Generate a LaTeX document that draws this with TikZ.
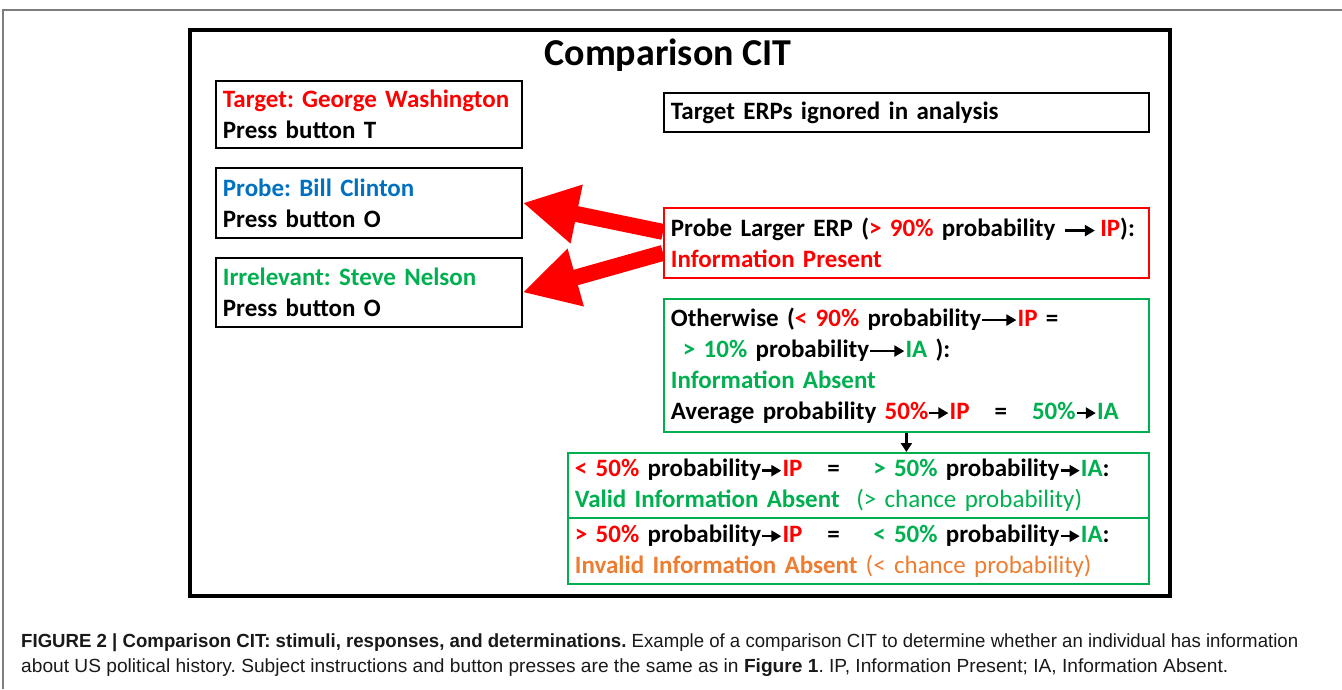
\documentclass[tikz,border=0pt]{standalone}
\usepackage{fontspec}
\usepackage{graphicx}
\setmainfont{Carlito}
\newfontfamily\capfont{Liberation Sans}
\usetikzlibrary{arrows.meta}
\frenchspacing
\definecolor{cred}{RGB}{255,0,0}
\definecolor{cblue}{RGB}{0,112,192}
\definecolor{cgreen}{RGB}{0,176,80}
\definecolor{corange}{RGB}{237,125,49}
\definecolor{cframe}{RGB}{125,125,125}
\newcommand\Rd[1]{\textcolor{cred}{#1}}
\newcommand\Gn[1]{\textcolor{cgreen}{#1}}
\newcommand\Or[1]{\textcolor{corange}{#1}}
\newcommand\larr[1][34pt]{\tikz[baseline=-0.24em]\draw[black,line width=2.4pt,-{Triangle[length=10pt,width=11pt]}] (0pt,0pt)--(#1,0pt);}
\newcommand\sarr{\tikz[baseline=-0.24em]\draw[black,line width=2.4pt,-{Triangle[length=10pt,width=11pt]}] (0pt,0pt)--(19pt,0pt);}
\tikzset{
  txt/.style={font=\fontsize{25}{31}\selectfont\bfseries},
  box/.style={draw, line width=1.8pt, anchor=north west, align=left, inner xsep=7pt, inner ysep=0pt, txt},
  redarrow/.style={draw=cred, line width=16pt, -{Triangle[length=55pt,width=56pt]}},
  downarrow/.style={draw=black, line width=2.2pt, -{Triangle[length=9pt,width=11pt]}},
  capline/.style={anchor=west, inner sep=0pt, font=\capfont\fontsize{19}{22}\selectfont, text=black!90}
}
\begin{document}
\begin{tikzpicture}[x=1pt,y=-1pt]
\useasboundingbox (0,0) rectangle (1342,689);
% page frame
\draw[cframe, line width=1.5pt] (3,689) -- (3,10) -- (1342,10);
% main box
\node[draw, line width=3.5pt, anchor=north west, minimum width=980pt, minimum height=566pt, inner sep=0pt] (main) at (188,28) {};
\node[font=\fontsize{38}{44}\selectfont\bfseries] (title) at (668,55) {Comparison CIT};
% left boxes
\node[box, text width=292pt, minimum height=67pt] (tgt) at (215,80) {\mbox{\Rd{Target: George Washington}}\\Press button T};
\node[box, text width=292pt, minimum height=70pt] (prb) at (215,167) {\textcolor{cblue}{Probe: Bill Clinton}\\Press button O};
\node[box, text width=292pt, minimum height=69pt] (irr) at (215,257) {\Gn{Irrelevant: Steve Nelson}\\Press button O};
% right boxes
\node[box, text width=471pt, minimum height=39pt] (ign) at (663,92) {Target ERPs ignored in analysis};
\node[box, draw=cred, text width=471pt, minimum height=70pt] (pl) at (663,207) {\mbox{Probe Larger ERP (\Rd{> 90\%} probability\ \larr[30pt]\,\Rd{IP}):}\\\Rd{Information Present}};
\node[box, draw=cgreen, text width=471pt, minimum height=133pt] (oth) at (663,298) {\mbox{Otherwise (\Rd{< 90\%} probability\larr\Rd{IP} =}\\\hspace*{12pt}\Gn{> 10\%} probability\larr\Gn{IA} ):\\\Gn{Information Absent}\\\mbox{Average probability \Rd{50\%}\sarr\Rd{IP}\quad=\quad\Gn{50\%}\sarr\Gn{IA}}};
\node[box, draw=cgreen, text width=567pt, minimum height=65pt] (valid) at (567,452) {\mbox{\Rd{< 50\%} probability\sarr\Rd{IP}\quad=\quad\ \Gn{> 50\%} probability\sarr\Gn{IA}:}\\\Gn{Valid Information Absent\ \ {\mdseries(> chance probability)}}};
\node[box, draw=cgreen, text width=567pt, minimum height=66pt] (invalid) at (567,517) {\mbox{\Rd{> 50\%} probability\sarr\Rd{IP}\quad=\quad\ \Gn{< 50\%} probability\sarr\Gn{IA}:}\\\Or{Invalid Information Absent {\mdseries(< chance probability)}}};
% connectors
\coordinate (s1) at ([yshift=11pt]pl.west);
\coordinate (s2) at ([yshift=-10pt]pl.west);
\draw[redarrow] (s1) -- (prb.east);
\draw[redarrow] (s2) -- (irr.east);
\draw[downarrow] (oth.south) -- (oth.south |- valid.north);
% caption
\node[capline] (cap1) at (21,643) {\resizebox{1277pt}{\height}{\textbf{FIGURE 2 | Comparison CIT: stimuli, responses, and determinations.} Example of a comparison CIT to determine whether an individual has information}};
\node[capline] (cap2) at (21,668) {\resizebox{1207pt}{\height}{about US political history. Subject instructions and button presses are the same as in \textbf{Figure 1}. IP, Information Present; IA, Information Absent.}};
\end{tikzpicture}
\end{document}
